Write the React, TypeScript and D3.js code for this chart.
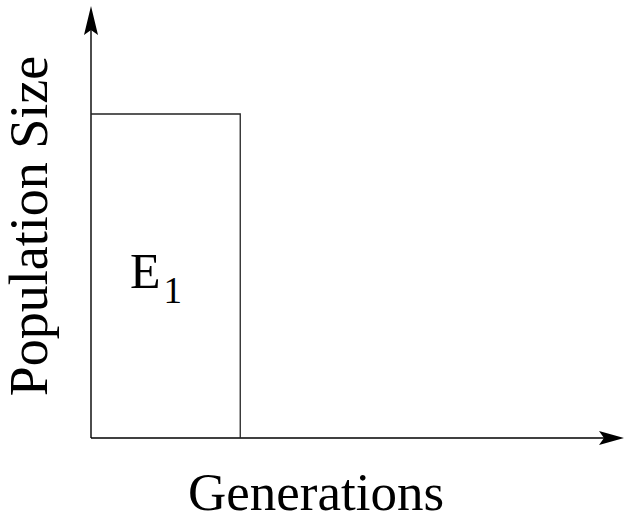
import React, { useEffect, useRef } from "react";
import * as d3 from "d3";

// Schematic: one epoch of constant population size
const epochLabels = ["E"];
const epochSubs = ["1"];
const epochStart = [0];
const epochEnd = [28];
const popSize = [75];

const xLabel = "Generations";
const yLabel = "Population Size";

const App: React.FC = () => {
  const ref = useRef<SVGSVGElement>(null);

  useEffect(() => {
    if (!ref.current) return;
    const svg = d3.select(ref.current);
    svg.selectAll("*").remove();

    const x = d3.scaleLinear().domain([0, 100]).range([91, 624]);
    const y = d3.scaleLinear().domain([0, 100]).range([438, 6]);

    const font = "Liberation Serif, DejaVu Serif, serif";

    // Axes
    svg.append("line")
      .attr("x1", x(0)).attr("y1", y(0))
      .attr("x2", x(0)).attr("y2", y(100) + 22)
      .attr("stroke", "#000").attr("stroke-width", 1.4);
    svg.append("line")
      .attr("x1", x(0)).attr("y1", y(0))
      .attr("x2", x(100) - 20).attr("y2", y(0))
      .attr("stroke", "#000").attr("stroke-width", 1.4);

    // Arrowheads
    const ax = x(0), ay = y(100);
    svg.append("path")
      .attr("d", `M${ax},${ay} L${ax - 7},${ay + 29} L${ax},${ay + 24} L${ax + 7},${ay + 29} Z`)
      .attr("fill", "#000");
    const bx = x(100), by = y(0);
    svg.append("path")
      .attr("d", `M${bx},${by} L${bx - 25},${by - 7} L${bx - 20},${by} L${bx - 25},${by + 7} Z`)
      .attr("fill", "#000");

    // Epoch boxes
    const g = svg.append("g");
    epochLabels.forEach((lab, i) => {
      const x0 = x(epochStart[i]);
      const x1 = x(epochEnd[i]);
      const yt = y(popSize[i]);
      g.append("path")
        .attr("d", `M${x0},${yt} H${x1} V${y(0)}`)
        .attr("fill", "none")
        .attr("stroke", "#222")
        .attr("stroke-width", 1.3);
      const t = g.append("text")
        .attr("x", x0 + 39)
        .attr("y", 288)
        .style("font-family", font)
        .style("font-size", "50px")
        .attr("fill", "#000");
      t.append("tspan").text(lab);
      t.append("tspan")
        .style("font-size", "37px")
        .attr("dx", 3)
        .attr("dy", 15)
        .text(epochSubs[i]);
    });

    // Axis labels
    svg.append("text")
      .attr("x", 316)
      .attr("y", 510)
      .attr("text-anchor", "middle")
      .style("font-family", font)
      .style("font-size", "53px")
      .attr("fill", "#000")
      .text(xLabel);

    svg.append("text")
      .attr("transform", `translate(47,226) rotate(-90)`)
      .attr("text-anchor", "middle")
      .style("font-family", font)
      .style("font-size", "54px")
      .attr("fill", "#000")
      .text(yLabel);
  }, []);

  return (
    <svg
      ref={ref}
      width={626}
      height={523}
      style={{ position: "absolute", left: 0, top: 0, background: "#fff" }}
    />
  );
};

export default App;
